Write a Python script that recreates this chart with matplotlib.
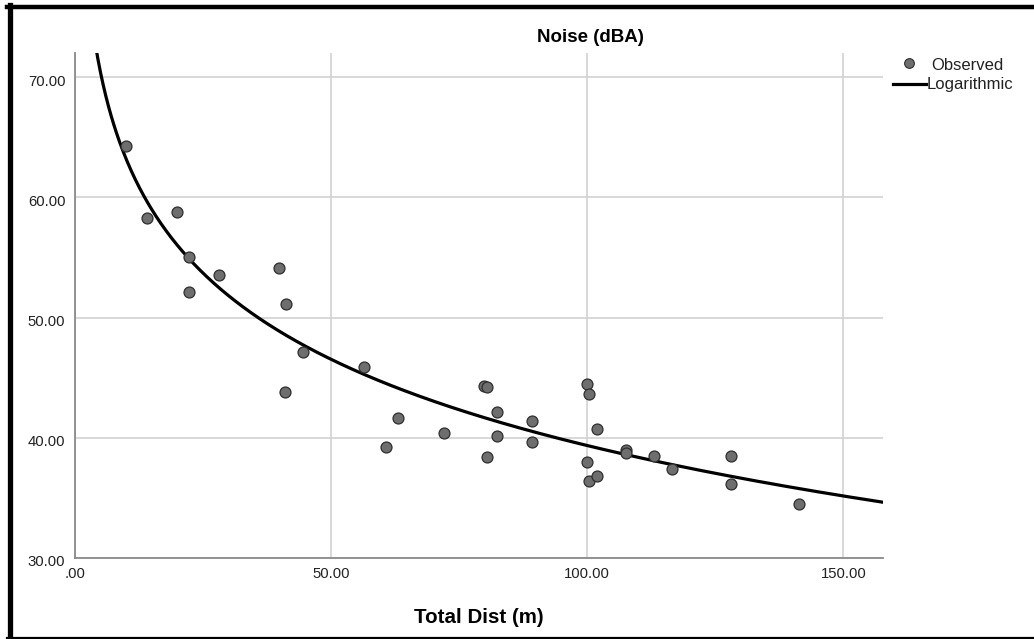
import numpy as np
import matplotlib.pyplot as plt
from matplotlib.lines import Line2D
from matplotlib.transforms import ScaledTranslation

plt.rcParams['font.family'] = ['Liberation Sans', 'DejaVu Sans']

# observed noise levels against total distance
total_dist = [9.9, 14.0, 19.9, 22.3, 22.3, 28.2, 39.9, 41.1, 41.0, 44.6,
              56.5, 60.7, 63.1, 72.0, 79.8, 80.5, 80.5, 82.4, 82.4, 89.3,
              89.3, 99.9, 100.4, 101.9, 99.9, 100.4, 101.9, 107.6, 107.6,
              113.1, 116.5, 128.1, 128.1, 141.3]
noise_dba = [64.3, 58.3, 58.8, 55.0, 52.1, 53.5, 54.1, 51.1, 43.8, 47.1,
             45.9, 39.2, 41.6, 40.4, 44.3, 44.2, 38.4, 42.1, 40.1, 41.4,
             39.6, 44.5, 43.6, 40.7, 38.0, 36.4, 36.8, 39.0, 38.7,
             38.5, 37.4, 38.5, 36.1, 34.5]

x_ticks = [0, 50, 100, 150]
x_tick_labels = ['.00', '50.00', '100.00', '150.00']
y_ticks = [30, 40, 50, 60, 70]
y_tick_labels = ['30.00', '40.00', '50.00', '60.00', '70.00']

W, H = 1034, 639
fig = plt.figure(figsize=(W / 100, H / 100), dpi=100)

ax_l, ax_r, ax_t, ax_b = 75, 882.7, 53.3, 557.7
ax = fig.add_axes([ax_l / W, 1 - ax_b / H, (ax_r - ax_l) / W, (ax_b - ax_t) / H])

# logarithmic fit y = b0 + b1 * ln(x)
b1, b0 = np.polyfit(np.log(total_dist), noise_dba, 1)
xs = np.linspace(0.5, 158, 600)
ys = b0 + b1 * np.log(xs)

ax.plot(xs, ys, color='black', lw=2.3, zorder=3)
ax.scatter(total_dist, noise_dba, s=62, facecolor='#6e6e6e', edgecolor='#2e2e2e',
           linewidth=0.9, zorder=4)

ax.set_xlim(0, 157.7)
ax.set_ylim(30, 72)
ax.set_xticks(x_ticks)
ax.set_xticklabels(x_tick_labels)
ax.set_yticks(y_ticks)
ax.set_yticklabels(y_tick_labels)
ax.tick_params(length=0, labelsize=10.7, colors='#222222')
ax.tick_params(axis='y', pad=7)
ax.tick_params(axis='x', pad=7)
# y labels sit a little below their gridlines
shift = ScaledTranslation(0, -3 / 100, fig.dpi_scale_trans)
for lbl in ax.get_yticklabels():
    lbl.set_transform(lbl.get_transform() + shift)
ax.grid(True, color='#d2d2d2', lw=1.2)
ax.set_axisbelow(True)

for side in ['top', 'right']:
    ax.spines[side].set_visible(False)
for side in ['left', 'bottom']:
    ax.spines[side].set_color('#8a8a8a')
    ax.spines[side].set_linewidth(1.3)

ax.set_xlabel('Total Dist (m)', fontsize=14.8, fontweight='bold', labelpad=19)
fig.text(590 / W, 1 - 37 / H, 'Noise (dBA)', fontsize=13.5, fontweight='bold',
         ha='center', va='center')

# legend drawn on the figure to the right of the plot
fig.add_artist(Line2D([909 / W], [1 - 63 / H], marker='o', markersize=7,
                      markerfacecolor='#6e6e6e', markeredgecolor='#2e2e2e',
                      markeredgewidth=0.8, linestyle='none'))
fig.text(931 / W, 1 - 65 / H, 'Observed', fontsize=12, va='center', color='#222222')
fig.add_artist(Line2D([893 / W, 926 / W], [1 - 84 / H, 1 - 84 / H],
                      color='black', lw=2.3))
fig.text(927 / W, 1 - 85 / H, 'Logarithmic', fontsize=12, va='center', color='#222222')

# frame around the chart
fig.add_artist(Line2D([9.5 / W, 9.5 / W], [0, 1 - 5 / H], color='black', lw=3.8))
fig.add_artist(Line2D([7 / W, 1], [1 - 7 / H, 1 - 7 / H], color='black', lw=3.2))
fig.add_artist(Line2D([7 / W, 1], [1 - 638 / H, 1 - 638 / H], color='black', lw=1.6))

fig.savefig('out.png', dpi=100)
